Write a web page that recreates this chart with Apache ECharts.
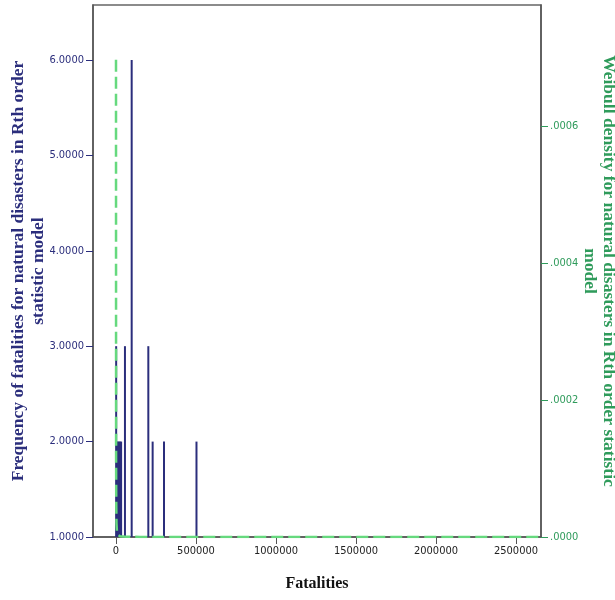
<!DOCTYPE html>
<html>
<head>
<meta charset="utf-8">
<script src="https://cdn.jsdelivr.net/npm/echarts@6/dist/echarts.min.js"></script>
<style>html,body{margin:0;padding:0;background:#fff;}#c{width:615px;height:600px;}</style>
</head>
<body>
<div id="c"></div>
<script>
// Frequency bars (fatalities, frequency)
var barFatalities = [1000, 5000, 12000, 19000, 26000, 32000, 56000, 98000, 202000, 229000, 300000, 503000];
var barFrequency  = [3,    2,    2,     2,     2,     2,     3,     6,     3,      2,      2,      2];
// Weibull density curve (fatalities, density)
var densFatalities = [0, 500, 1500, 3000, 6000, 12000, 25000, 60000, 150000, 500000, 1000000, 1500000, 2000000, 2650000];
var densValues     = [0.000697, 0.00012, 0.00005, 0.00002, 0.000008, 0.000003, 0.0000012, 0.0000004, 0.0000001, 0, 0, 0, 0, 0];
// Tick values
var xTicks = [0, 500000, 1000000, 1500000, 2000000, 2500000];
var leftTicks = [1, 2, 3, 4, 5, 6];
var rightTicks = [0, 0.0002, 0.0004, 0.0006];

var navy = '#2b2e7c';
var green = '#2f9b5b';
var tickFont = "'Liberation Sans Narrow','DejaVu Sans Condensed','Liberation Sans',sans-serif";
var titleFont = "'Liberation Serif','DejaVu Serif',serif";

var chart = echarts.init(document.getElementById('c'), null, {renderer: 'canvas'});
chart.setOption({
  animation: false,
  backgroundColor: '#fff',
  grid: {left: 93, right: 74, top: 5, bottom: 63, containLabel: false, outerBoundsMode: 'none',
    show: true, borderColor: '#666', borderWidth: 1.5, backgroundColor: '#fff'},
  xAxis: {
    type: 'value', min: -143750, max: 2656250,
    name: 'Fatalities', nameLocation: 'middle', nameGap: 39, nameMoveOverlap: false,
    nameTextStyle: {fontFamily: titleFont, fontWeight: 'bold', fontSize: 16, color: '#111'},
    axisLine: {show: true, onZero: false, lineStyle: {color: '#555', width: 1.5}},
    axisTick: {show: true, length: 7, customValues: xTicks, lineStyle: {color: '#555'}},
    axisLabel: {customValues: xTicks, margin: 9, fontFamily: tickFont, fontSize: 11, color: '#222',
      formatter: function (v) { return String(v); }},
    splitLine: {show: false}
  },
  yAxis: [{
    type: 'value', min: 1, max: 6.576, position: 'left',
    name: 'Frequency of fatalities for natural disasters in Rth order\nstatistic model',
    nameLocation: 'middle', nameGap: 45, nameRotate: 90, nameMoveOverlap: false,
    nameTextStyle: {fontFamily: titleFont, fontWeight: 'bold', fontSize: 17.5, color: navy, lineHeight: 20},
    axisLine: {show: true, onZero: false, lineStyle: {color: '#555', width: 1.5}},
    axisTick: {show: true, length: 7, customValues: leftTicks, lineStyle: {color: navy}},
    axisLabel: {customValues: leftTicks, margin: 9, fontFamily: tickFont, fontSize: 11, color: navy,
      formatter: function (v) { return v.toFixed(4); }},
    splitLine: {show: false}
  }, {
    type: 'value', min: 0, max: 0.000777, position: 'right',
    name: 'Weibull density for natural disasters in Rth order statistic\nmodel',
    nameLocation: 'middle', nameGap: 39.75, nameRotate: -90, nameMoveOverlap: false,
    nameTextStyle: {fontFamily: titleFont, fontWeight: 'bold', fontSize: 17.5, color: green, lineHeight: 18.5},
    axisLine: {show: true, onZero: false, lineStyle: {color: '#555', width: 1.5}},
    axisTick: {show: true, length: 7, customValues: rightTicks, lineStyle: {color: green}},
    axisLabel: {customValues: rightTicks, margin: 9, fontFamily: tickFont, fontSize: 11, color: green,
      formatter: function (v) { return v.toFixed(4).replace(/^0/, ''); }},
    splitLine: {show: false}
  }],
  series: [{
    type: 'bar', yAxisIndex: 0, barWidth: 2,
    itemStyle: {color: navy},
    data: barFatalities.map(function (x, i) { return [x, barFrequency[i]]; })
  }, {
    type: 'line', yAxisIndex: 1, showSymbol: false, symbol: 'none', smooth: false,
    lineStyle: {color: '#66d97e', width: 2.5, type: [12, 5]},
    data: densFatalities.map(function (x, i) { return [x, densValues[i]]; })
  }]
});
</script>
</body>
</html>
